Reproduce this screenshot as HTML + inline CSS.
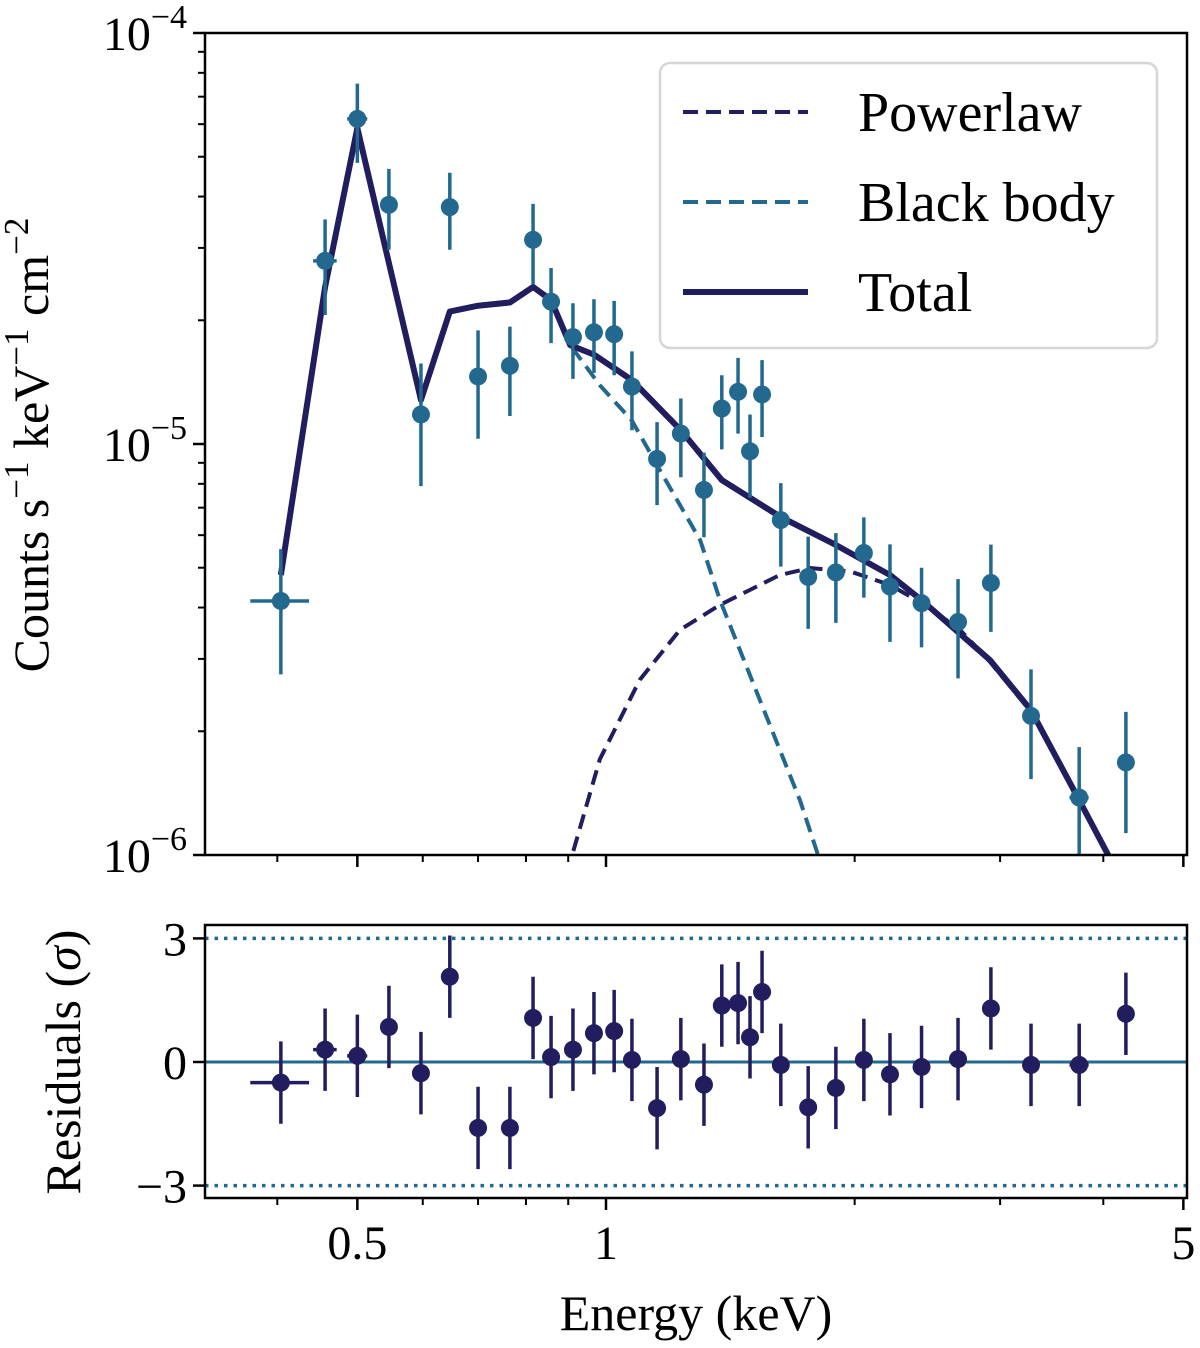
<!DOCTYPE html>
<html><head><meta charset="utf-8"><style>
body{margin:0;background:#fff;}
svg{display:block;font-family:"Liberation Serif",serif;}
</style></head><body>
<svg id="chart" width="1200" height="1348" viewBox="0 0 1200 1348" xmlns="http://www.w3.org/2000/svg"></svg>
<script>
// ---- data ----
const dataEnergy=[0.404,0.457,0.5,0.546,0.597,0.647,0.700,0.765,0.816,0.858,0.912,0.967,1.023,1.075,1.153,1.232,1.314,1.381,1.445,1.494,1.545,1.628,1.757,1.898,2.052,2.207,2.41,2.668,2.924,3.27,3.74,4.26];
const dataCounts=[4.15e-6,2.79e-5,6.18e-5,3.82e-5,1.18e-5,3.77e-5,1.46e-5,1.55e-5,3.14e-5,2.22e-5,1.82e-5,1.87e-5,1.85e-5,1.38e-5,9.2e-6,1.06e-5,7.73e-6,1.22e-5,1.34e-5,9.6e-6,1.32e-5,6.53e-6,4.75e-6,4.87e-6,5.43e-6,4.5e-6,4.1e-6,3.69e-6,4.59e-6,2.18e-6,1.38e-6,1.68e-6];
const dataSigma=[1.4e-6,7.3e-6,1.35e-5,8.5e-6,3.9e-6,8e-6,4.3e-6,3.8e-6,7e-6,4.6e-6,3.8e-6,3.8e-6,3.8e-6,3e-6,2.1e-6,2.3e-6,1.8e-6,2.5e-6,2.8e-6,2.2e-6,2.8e-6,1.5e-6,1.2e-6,1.2e-6,1.2e-6,1.2e-6,0.9e-6,1.0e-6,1.1e-6,0.65e-6,0.45e-6,0.55e-6];
const dataXerr=[0.033,0.015,0.014,0.01,0.013,0.006,0.012,0.015,0.005,0.008,0.008,0.008,0.008,0.01,0.01,0.01,0.01,0.01,0.01,0.01,0.01,0.02,0.02,0.02,0.03,0.03,0.04,0.05,0.05,0.07,0.1,0.07];
const residuals=[-0.5,0.3,0.15,0.85,-0.27,2.07,-1.6,-1.6,1.07,0.12,0.3,0.7,0.75,0.05,-1.12,0.07,-0.55,1.37,1.43,0.6,1.7,-0.07,-1.1,-0.63,0.05,-0.3,-0.12,0.07,1.3,-0.07,-0.07,1.17];
const totalE=[0.404,0.457,0.5,0.597,0.647,0.700,0.765,0.816,0.858,0.905,0.967,1.075,1.232,1.381,1.628,1.898,2.207,2.41,2.917,3.27,3.74,4.30];
const totalV=[4.8e-6,2.41e-5,5.87e-5,1.28e-5,2.10e-5,2.17e-5,2.21e-5,2.41e-5,2.24e-5,1.74e-5,1.65e-5,1.43e-5,1.08e-5,8.17e-6,6.64e-6,5.68e-6,4.8e-6,4.17e-6,2.98e-6,2.25e-6,1.36e-6,8e-7];
const bbE=[0.858,0.905,0.983,1.075,1.162,1.300,1.374,1.536,1.717,1.806,1.9];
const bbV=[2.24e-5,1.74e-5,1.39e-5,1.14e-5,8.64e-6,5.84e-6,4.17e-6,2.38e-6,1.36e-6,1.0e-6,7e-7];
const plE=[0.88,0.910,0.983,1.099,1.229,1.374,1.623,1.767,1.974,2.207,2.433,2.683,2.917,3.27,3.74,4.08,4.2];
const plV=[7e-7,1.0e-6,1.71e-6,2.67e-6,3.53e-6,4.06e-6,4.8e-6,4.99e-6,4.9e-6,4.54e-6,4.06e-6,3.53e-6,2.95e-6,2.23e-6,1.35e-6,0.98e-6,8.5e-7];
const yTickVals=[1e-4,1e-5,1e-6];
const yTickExp=["−4","−5","−6"];
const xTickVals=[0.5,1,5];
const xTickLabels=["0.5","1","5"];
const xMinor=[0.4,0.6,0.7,0.8,0.9,2,3,4];
const resTicks=[3,0,-3];
const resTickLabels=["3","0","−3"];

// ---- axes ----
const L=205,R=1187,T=33,B=855,RT=925,RB=1198;
const X=e=>606+826*Math.log10(e);
const Y=v=>33+411*(-4-Math.log10(v));
const RY=r=>1062-41.2*r;
const NS="http://www.w3.org/2000/svg";
const svg=document.getElementById('chart');
function mk(tag,attrs,parent){const el=document.createElementNS(NS,tag);for(const k in attrs)el.setAttribute(k,attrs[k]);(parent||svg).appendChild(el);return el;}
const NAVY="#221d5e",BLUE="#23698f";

const defs=mk('defs',{});
const c1=mk('clipPath',{id:'cm'},defs);mk('rect',{x:L,y:T,width:R-L,height:B-T},c1);
const c2=mk('clipPath',{id:'cr'},defs);mk('rect',{x:L,y:RT,width:R-L,height:RB-RT},c2);
const gm=mk('g',{'clip-path':'url(#cm)'});


const gr=mk('g',{'clip-path':'url(#cr)'});



function line(E,V,attrs,name){
  const p=mk('polyline',Object.assign({points:E.map((e,i)=>X(e)+','+Y(V[i])).join(' '),fill:'none'},attrs),gm);
  
  
}
line(plE,plV,{stroke:NAVY,'stroke-width':4,'stroke-dasharray':'15 8'},'powerlaw-line');
line(totalE.slice(0,9).concat(bbE),totalV.slice(0,9).concat(bbV),{stroke:BLUE,'stroke-width':4,'stroke-dasharray':'15 8'},'blackbody-line');
line(totalE,totalV,{stroke:NAVY,'stroke-width':6,'stroke-linejoin':'round'},'total-line');

dataEnergy.forEach((e,i)=>{
  const g=mk('g',{},gm);
  
  
  const v=dataCounts[i],s=dataSigma[i],lo=Math.max(v-s,1e-8);
  mk('line',{x1:X(e),x2:X(e),y1:Y(v+s),y2:Y(lo),stroke:BLUE,'stroke-width':3.5},g);
  mk('line',{x1:X(e-dataXerr[i]),x2:X(e+dataXerr[i]),y1:Y(v),y2:Y(v),stroke:BLUE,'stroke-width':3.5},g);
  mk('circle',{cx:X(e),cy:Y(v),r:9,fill:BLUE},g);
});

[3,-3].forEach(r=>{const l=mk('line',{x1:L,x2:R,y1:RY(r),y2:RY(r),stroke:BLUE,'stroke-width':3.5,'stroke-dasharray':'3.5 6'},gr);
});
const zl=mk('line',{x1:L,x2:R,y1:RY(0),y2:RY(0),stroke:BLUE,'stroke-width':3},gr);

dataEnergy.forEach((e,i)=>{
  const g=mk('g',{},gr);
  
  
  const r=residuals[i];
  mk('line',{x1:X(e),x2:X(e),y1:RY(r+1),y2:RY(r-1),stroke:NAVY,'stroke-width':3.5},g);
  mk('line',{x1:X(e-dataXerr[i]),x2:X(e+dataXerr[i]),y1:RY(r),y2:RY(r),stroke:NAVY,'stroke-width':3.5},g);
  mk('circle',{cx:X(e),cy:RY(r),r:9,fill:NAVY},g);
});

const f1=mk('rect',{x:L,y:T,width:R-L,height:B-T,fill:'none',stroke:'#000','stroke-width':2.5});

const f2=mk('rect',{x:L,y:RT,width:R-L,height:RB-RT,fill:'none',stroke:'#000','stroke-width':2.5});


yTickVals.forEach((v,i)=>{
  mk('line',{x1:L-12,x2:L,y1:Y(v),y2:Y(v),stroke:'#000','stroke-width':2.5});
  const t=mk('text',{x:L-18,y:Y(v)+17,'text-anchor':'end','font-size':48});
  
  t.innerHTML='10<tspan dy="-22" font-size="34">'+yTickExp[i]+'</tspan>';
});
[1e-6,1e-5].forEach(d=>{for(let k=2;k<=9;k++){const y=Y(d*k);mk('line',{x1:L-7,x2:L,y1:y,y2:y,stroke:'#000','stroke-width':2});}});
[[B],[RB]].forEach(([yb])=>{
  xTickVals.forEach(v=>mk('line',{x1:X(v),x2:X(v),y1:yb,y2:yb+12,stroke:'#000','stroke-width':2.5}));
  xMinor.forEach(v=>mk('line',{x1:X(v),x2:X(v),y1:yb,y2:yb+7,stroke:'#000','stroke-width':2}));
});
xTickVals.forEach((v,i)=>{const t=mk('text',{x:X(v),y:1259,'text-anchor':'middle','font-size':48});
t.textContent=xTickLabels[i];});
resTicks.forEach((r,i)=>{
  mk('line',{x1:L-12,x2:L,y1:RY(r),y2:RY(r),stroke:'#000','stroke-width':2.5});
  const t=mk('text',{x:L-18,y:RY(r)+17,'text-anchor':'end','font-size':48});
  t.textContent=resTickLabels[i];
});
</script>
<script>
(function(){
const svg=document.getElementById('chart');const NS="http://www.w3.org/2000/svg";
function mk(tag,attrs){const el=document.createElementNS(NS,tag);for(const k in attrs)el.setAttribute(k,attrs[k]);svg.appendChild(el);return el;}
let t=mk('text',{x:0,y:0,'font-size':50,'text-anchor':'middle',transform:'translate(48,445) rotate(-90)'});

t.innerHTML='Counts s<tspan dy="-20" font-size="35">−1</tspan><tspan dy="20"> keV</tspan><tspan dy="-20" font-size="35">−1</tspan><tspan dy="20"> cm</tspan><tspan dy="-20" font-size="35">−2</tspan>';
t=mk('text',{x:0,y:0,'font-size':50,'text-anchor':'middle',transform:'translate(80,1062) rotate(-90)'});

t.innerHTML='Residuals (<tspan font-style="italic">σ</tspan>)';
t=mk('text',{x:696,y:1330,'font-size':50,'text-anchor':'middle'});
t.textContent='Energy (keV)';
const lg=document.createElementNS(NS,'g');svg.appendChild(lg);

function a(tag,attrs){const el=document.createElementNS(NS,tag);for(const k in attrs)el.setAttribute(k,attrs[k]);lg.appendChild(el);return el;}
a('rect',{x:660,y:63,width:497,height:285,rx:10,fill:'#fff','fill-opacity':0.85,stroke:'#d6d6d6','stroke-width':2.5});
const items=[['Powerlaw','#221d5e','15 8',4,112],['Black body','#23698f','15 8',4,202],['Total','#221d5e','',6,292]];
items.forEach(it=>{
  const l=a('line',{x1:683,x2:808,y1:it[4],y2:it[4],stroke:it[1],'stroke-width':it[3]});
  if(it[2])l.setAttribute('stroke-dasharray',it[2]);
  const tx=a('text',{x:858,y:it[4]+19,'font-size':56});
  tx.textContent=it[0];
});
})();
</script>
</body></html>
